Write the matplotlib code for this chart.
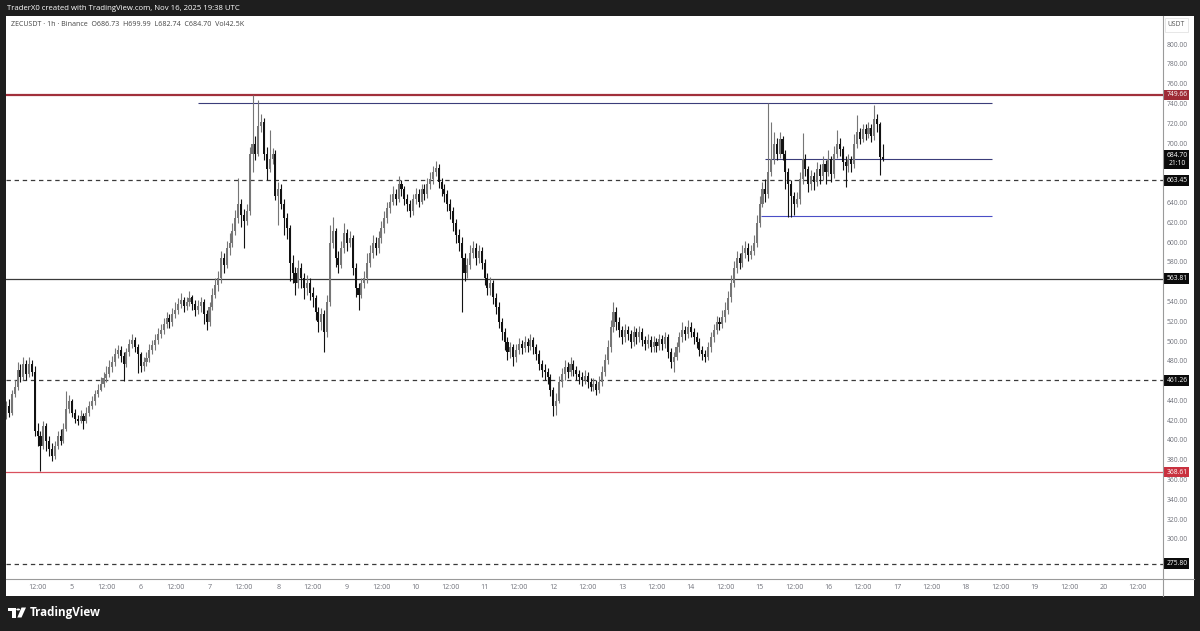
import numpy as np
import matplotlib
matplotlib.use("Agg")
import matplotlib.pyplot as plt
from matplotlib.patches import Polygon, Circle
from matplotlib.lines import Line2D

plt.rcParams['font.family'] = ['Open Sans', 'DejaVu Sans']

# ---------------- data (hourly candles, ZECUSDT 1h, from Nov 4 01:00) ----------------
first_hour = 1          # hours after Nov 4 00:00 of first candle
first_open = 428.0
closes = [
    435, 428, 447, 455, 472, 465, 478, 468, 478, 470,
    410, 405, 395, 415, 400, 392, 385, 395, 405, 400,
    412, 432, 440, 428, 422, 420, 425, 420, 428, 435,
    440, 447, 452, 458, 464, 468, 475, 480, 488, 492,
    486, 478, 490, 498, 502, 495, 488, 476, 480, 484,
    492, 497, 502, 508, 512, 518, 524, 520, 528, 532,
    538, 542, 536, 540, 545, 538, 532, 536, 540, 528,
    520, 535, 548, 558, 565, 585, 578, 595, 600, 612,
    625, 640, 628, 622, 632, 690, 700, 690, 718, 722,
    690, 675, 685, 690, 648, 655, 640, 625, 615, 580,
    570, 560, 575, 565, 555, 560, 550, 545, 530, 520,
    528, 510, 540, 600, 612, 585, 578, 595, 610, 600,
    605, 575, 555, 548, 560, 565, 580, 590, 600, 595,
    605, 615, 625, 635, 642, 650, 645, 660, 655, 645,
    640, 632, 645, 650, 642, 655, 650, 660, 665, 672,
    676, 662, 655, 650, 640, 632, 620, 608, 600, 585,
    570, 578, 590, 595, 585, 592, 580, 565, 555, 560,
    545, 535, 520, 510, 500, 490, 495, 485, 492, 498,
    494, 500, 496, 502, 495, 488, 478, 472, 470, 465,
    452, 435, 440, 460, 468, 475, 470, 478, 472, 468,
    465, 462, 466, 460, 455, 458, 452, 460, 470, 482,
    495, 515, 530, 520, 512, 505, 512, 508, 500, 510,
    505, 510, 502, 498, 502, 495, 500, 496, 503, 498,
    505, 490, 480, 485, 495, 505, 512, 508, 515, 510,
    505, 500, 492, 488, 485, 495, 505, 512, 520, 518,
    525, 532, 545, 560, 575, 585, 580, 590, 595, 588,
    592, 600, 620, 640, 655, 650, 672, 685, 700, 690,
    705, 690, 672, 660, 648, 640, 645, 665, 685, 675,
    660, 668, 662, 675, 668, 680, 672, 685, 670, 690,
    700, 695, 682, 678, 685, 680, 700, 712, 705, 715,
    710, 716, 708, 725, 720, 686.73, 684.70,
]
highs = [
    440, 442, 452, 462, 480, 478, 485, 482, 485, 482,
    476, 418, 410, 420, 418, 405, 398, 400, 410, 412,
    418, 451, 446, 442, 432, 426, 431, 428, 434, 440,
    445, 452, 458, 465, 470, 476, 482, 486, 494, 497,
    496, 490, 494, 503, 508, 505, 498, 490, 485, 490,
    498, 502, 508, 514, 518, 524, 530, 528, 534, 540,
    545, 550, 546, 546, 552, 548, 542, 542, 546, 543,
    532, 540, 555, 565, 572, 592, 590, 602, 610, 620,
    633, 666, 645, 634, 640, 697, 749.5, 708, 745, 730,
    726, 697, 714, 696, 694, 662, 660, 645, 630, 618,
    588, 576, 583, 580, 570, 568, 565, 556, 548, 535,
    534, 532, 548, 618, 626, 615, 592, 602, 620, 614,
    612, 608, 580, 560, 565, 572, 590, 598, 608, 606,
    612, 622, 632, 642, 650, 658, 655, 668, 664, 658,
    650, 644, 650, 656, 655, 660, 660, 666, 672, 678,
    683, 680, 666, 660, 654, 645, 636, 624, 614, 606,
    590, 585, 598, 602, 600, 598, 596, 584, 570, 566,
    563, 550, 540, 524, 514, 505, 500, 498, 498, 504,
    502, 506, 504, 508, 505, 498, 492, 482, 478, 474,
    468, 455, 448, 466, 474, 482, 480, 485, 482, 476,
    472, 470, 472, 470, 464, 464, 462, 466, 476, 488,
    502, 522, 540, 535, 525, 516, 518, 516, 512, 516,
    514, 516, 514, 506, 508, 506, 506, 504, 508, 507,
    510, 508, 494, 490, 500, 510, 520, 516, 522, 520,
    514, 510, 504, 496, 492, 500, 510, 518, 526, 525,
    532, 540, 552, 568, 582, 592, 590, 598, 602, 600,
    598, 608, 628, 648, 662, 665, 742, 722, 712, 706,
    712, 708, 694, 676, 664, 652, 652, 672, 711, 690,
    678, 674, 672, 682, 680, 688, 684, 694, 688, 698,
    714, 706, 698, 688, 690, 688, 710, 729, 716, 720,
    720, 722, 720, 739.5, 730, 722, 699.99,
]
lows = [
    422, 424, 426, 444, 452, 460, 462, 462, 465, 466,
    405, 395, 370, 392, 390, 385, 380, 382, 392, 396,
    398, 410, 428, 424, 418, 416, 418, 412, 418, 425,
    432, 436, 444, 450, 455, 460, 465, 470, 476, 484,
    480, 461, 475, 486, 494, 490, 469, 470, 471, 476,
    480, 488, 492, 498, 504, 508, 514, 514, 516, 524,
    528, 534, 530, 532, 536, 532, 526, 528, 530, 518,
    512, 516, 532, 544, 552, 560, 570, 575, 588, 596,
    608, 620, 616, 595, 618, 628, 672, 684, 688, 712,
    684, 664, 672, 680, 644, 618, 634, 608, 604, 562,
    560, 548, 555, 555, 543, 548, 542, 535, 522, 510,
    512, 490, 505, 536, 595, 576, 570, 575, 590, 592,
    596, 568, 546, 532, 544, 555, 560, 576, 585, 588,
    590, 600, 610, 620, 630, 638, 638, 642, 648, 638,
    632, 626, 628, 640, 636, 640, 644, 646, 655, 660,
    668, 656, 648, 642, 632, 624, 612, 600, 592, 530,
    562, 565, 574, 585, 578, 580, 574, 558, 548, 548,
    538, 528, 514, 502, 492, 482, 484, 476, 480, 488,
    488, 490, 490, 492, 488, 482, 472, 465, 462, 458,
    445, 425, 426, 438, 455, 462, 464, 466, 466, 462,
    458, 456, 458, 454, 450, 450, 446, 448, 456, 466,
    478, 490, 510, 512, 505, 498, 500, 502, 494, 496,
    498, 500, 496, 492, 494, 490, 490, 490, 492, 492,
    494, 484, 474, 470, 482, 490, 500, 502, 504, 505,
    498, 494, 486, 482, 480, 482, 490, 500, 508, 512,
    514, 520, 528, 540, 556, 570, 574, 576, 585, 582,
    584, 588, 596, 616, 636, 642, 646, 668, 680, 684,
    686, 684, 655, 626, 626, 628, 636, 640, 660, 668,
    652, 654, 654, 658, 660, 664, 660, 668, 662, 666,
    686, 688, 674, 657, 672, 672, 676, 696, 700, 702,
    704, 706, 702, 704, 712, 669, 682.74,
]

# horizontal levels
level_prices = [749.66, 663.45, 563.81, 461.26, 368.61, 275.80]
level_styles = ['red_thick', 'dashed', 'solid', 'dashed', 'red', 'dashed']
# drawn ray segments: (start hour, end hour, price)
ray_starts = [68, 265.9, 264.5]
ray_ends = [345, 345, 345]
ray_prices = [741.3, 684.70, 627.3]
ray_colors = ['#3b3d7a', '#3b3d7a', '#4a4ec6']

price_ticks = [800, 780, 760, 740, 720, 700, 640, 620, 600, 580, 540, 520, 500,
               480, 440, 420, 400, 380, 360, 340, 320, 300]
day_labels = ['12:00', '5', '12:00', '6', '12:00', '7', '12:00', '8', '12:00', '9',
              '12:00', '10', '12:00', '11', '12:00', '12', '12:00', '13', '12:00', '14',
              '12:00', '15', '12:00', '16', '12:00', '17', '12:00', '18', '12:00', '19',
              '12:00', '20', '12:00']
first_label_hour = 12
label_step_hours = 12

header_text = "TraderX0 created with TradingView.com, Nov 16, 2025 19:38 UTC"
legend_text = "ZECUSDT · 1h · Binance  O686.73  H699.99  L682.74  C684.70  Vol42.5K"

# ---------------- figure ----------------
W, H = 1200, 631
fig = plt.figure(figsize=(12, 6.31), dpi=100)
fig.patch.set_facecolor('#1e1e1e')

def fx(x):
    return x / W

def fy(y):
    return 1 - y / H

# white panel (drawn as a background axes)
bg = fig.add_axes([fx(6), fy(596), (1194 - 6) / W, (596 - 16) / H], zorder=0)
bg.set_facecolor('white')
bg.set_xticks([])
bg.set_yticks([])
for s in bg.spines.values():
    s.set_visible(False)

XL = (0.96, 404.8)
YL = (260.5, 829.5)

ax = fig.add_axes([fx(6), fy(579), (1163 - 6) / W, (579 - 16) / H], zorder=2)
ax.set_xlim(*XL)
ax.set_ylim(*YL)
ax.axis('off')

# levels
for p, st in zip(level_prices, level_styles):
    if st == 'red_thick':
        ax.axhline(p, color='#a1303b', lw=1.6, zorder=2)
    elif st == 'red':
        ax.axhline(p, color='#d9505e', lw=0.9, zorder=2)
    elif st == 'solid':
        ax.axhline(p, color='#3a3a3a', lw=0.9, zorder=2)
    else:
        ax.axhline(p, color='#3a3a3a', lw=0.9, ls=(0, (3.5, 3)), zorder=2)

for s, e, p, col in zip(ray_starts, ray_ends, ray_prices, ray_colors):
    ax.plot([s, e], [p, p], color=col, lw=0.8, zorder=2, solid_capstyle='butt')

# candles
c = np.array(closes, dtype=float)
o = np.r_[first_open, c[:-1]]
hi = np.maximum(np.array(highs, dtype=float), np.maximum(o, c))
lo = np.minimum(np.array(lows, dtype=float), np.minimum(o, c))
hrs = np.arange(len(c)) + first_hour
up = c >= o
cols = np.where(up, '#767676', '#121212')
ax.vlines(hrs, lo, hi, colors=cols, lw=0.8, zorder=3)
body = np.maximum(np.abs(c - o), 1.2)
ax.bar(hrs, body, bottom=np.minimum(o, c), width=0.72, color=cols, edgecolor='none', zorder=4)

# ---------------- price axis ----------------
pax = fig.add_axes([fx(1163), fy(579), (1194 - 1163) / W, (579 - 16) / H], zorder=2)
pax.set_xlim(0, 1)
pax.set_ylim(*YL)
pax.axis('off')
for v in price_ticks:
    pax.text(0.45, v, f'{v:.2f}', ha='center', va='center', fontsize=4.9,
             color='#6f717a', zorder=2)

def price_box(p, txt, fc):
    pax.text(0.45, p, txt, ha='center', va='center', fontsize=4.9, color='white',
             linespacing=1.2,
             bbox=dict(boxstyle='square,pad=0.28', fc=fc, ec='none'), zorder=5)

price_box(749.66, '749.66', '#9e2b36')
price_box(684.70, '684.70\n21:10', '#0b0b0b')
price_box(663.45, '663.45', '#0b0b0b')
price_box(563.81, '563.81', '#0b0b0b')
price_box(461.26, '461.26', '#0b0b0b')
price_box(368.61, '368.61', '#c9313f')
price_box(275.80, '275.80', '#0b0b0b')

# USDT label box
fig.text(fx(1176.5), fy(25), 'USDT', ha='center', va='center', fontsize=4.9, color='#555',
         bbox=dict(boxstyle='square,pad=0.45', fc='white', ec='#e3e3e3', lw=0.6), zorder=5)

# ---------------- time axis ----------------
tax = fig.add_axes([fx(6), fy(596), (1163 - 6) / W, (596 - 579) / H], zorder=2)
tax.set_xlim(*XL)
tax.set_ylim(0, 1)
tax.axis('off')
for i, lab in enumerate(day_labels):
    tax.text(first_label_hour + i * label_step_hours, 0.5, lab, ha='center', va='center',
             fontsize=5.1, color='#6f717a')

# separators
fig.lines.append(Line2D([fx(1163), fx(1163)], [fy(16), fy(596)], transform=fig.transFigure,
                        color='#9a9a9a', lw=0.8, zorder=6))
fig.lines.append(Line2D([fx(6), fx(1194)], [fy(579), fy(579)], transform=fig.transFigure,
                        color='#9a9a9a', lw=0.8, zorder=6))

# ---------------- texts ----------------
fig.text(fx(7), fy(8.5), header_text, ha='left', va='center', fontsize=5.6, color='white')
fig.text(fx(11), fy(24), legend_text, ha='left', va='center', fontsize=5.1, color='#444',
         zorder=6)

# TradingView logo
def P(pts):
    return [(fx(x), fy(y)) for x, y in pts]

fig.patches.append(Polygon(P([(8, 607.5), (15.5, 607.5), (15.5, 617.5), (11.8, 617.5),
                              (11.8, 611.3), (8, 611.3)]),
                           closed=True, transform=fig.transFigure, fc='white', ec='none'))
fig.patches.append(Circle((fx(18.2), fy(609.5)), 1.9 / W, transform=fig.transFigure,
                          fc='white', ec='none'))
fig.patches.append(Polygon(P([(21.5, 607.5), (26, 607.5), (21.5, 617.5), (17.3, 617.5)]),
                           closed=True, transform=fig.transFigure, fc='white', ec='none'))
fig.text(fx(29.5), fy(612.5), 'TradingView', ha='left', va='center', fontsize=8.4,
         fontweight='bold', color='white')

fig.savefig('out.png', dpi=100, facecolor=fig.get_facecolor())
